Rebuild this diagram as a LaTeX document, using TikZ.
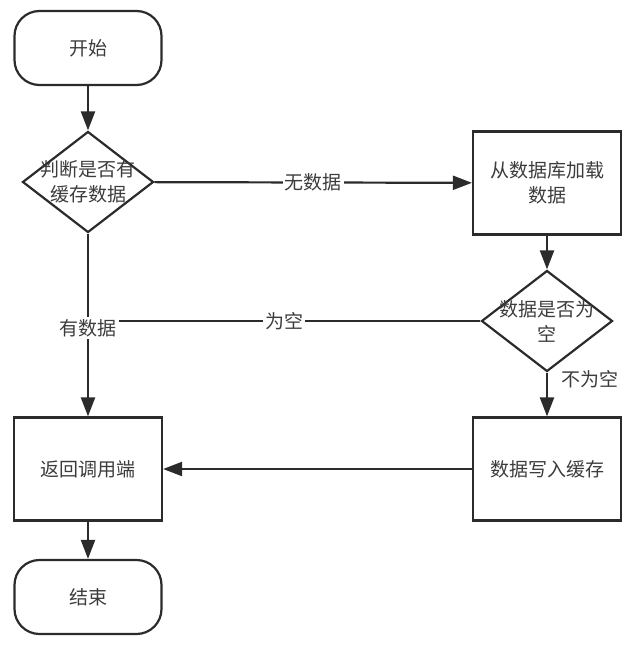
\documentclass[tikz,border=0pt]{standalone}
\usepackage{fontspec}
\newfontfamily\cjk{Noto Sans CJK SC}
\usetikzlibrary{arrows.meta,shapes.geometric}
\definecolor{linegray}{HTML}{2B2B2B}
\definecolor{textgray}{HTML}{3C3C3C}

\begin{document}
\begin{tikzpicture}[x=1pt, y=-1pt,
		every node/.style={font=\cjk\fontsize{19}{25}\selectfont, text=textgray, align=center},
		terminal/.style={draw=linegray, line width=2.2pt, rounded corners=25pt, minimum width=147pt, minimum height=74pt},
		process/.style={draw=linegray, line width=2.2pt, minimum width=148pt, minimum height=103pt},
		decision/.style={diamond, draw=linegray, line width=2.2pt, minimum width=131pt, minimum height=101pt, inner sep=0pt},
		flow/.style={draw=linegray, line width=2.2pt, -{Triangle[length=19pt,width=14pt]}},
		plainline/.style={draw=linegray, line width=2.2pt},
		edgetext/.style={fill=white, inner sep=2pt}]
		%%%%% START %%%%%
		
		\useasboundingbox (0, 0) rectangle (636, 650);
		
		\node[terminal] (start) at (88, 48) {开始};
		\node[decision, label={[align=center]center:判断是否有\\缓存数据}] (judge) at (88, 182) {};
		\node[process] (load) at (547, 183) {从数据库加载\\数据};
		\node[decision, label={[align=center]center:数据是否为\\空}] (check) at (547, 321) {};
		\node[process] (write) at (547, 469) {数据写入缓存};
		\node[process] (ret) at (88, 469) {返回调用端};
		\node[terminal] (finish) at (88, 597) {结束};
		
		\coordinate (join) at (check.west -| judge.south);
		
		\draw[flow] (start) -- (judge);
		\draw[flow] (judge) -- (load) node[midway, edgetext] (nodata) {无数据};
		\draw[flow] (load) -- (check);
		\draw[plainline] (check) -- (join) node[midway, edgetext] (isempty) {为空};
		\draw[flow] (judge) -- (ret) node[midway, edgetext, yshift=-3pt] (hasdata) {有数据};
		\draw[flow] (check) -- (write) node[pos=0.15, anchor=west, xshift=10pt] (notempty) {不为空};
		\draw[flow] (write) -- (ret);
		\draw[flow] (ret) -- (finish);
		
		%%%%% END %%%%%
	\end{tikzpicture}
\end{document}
